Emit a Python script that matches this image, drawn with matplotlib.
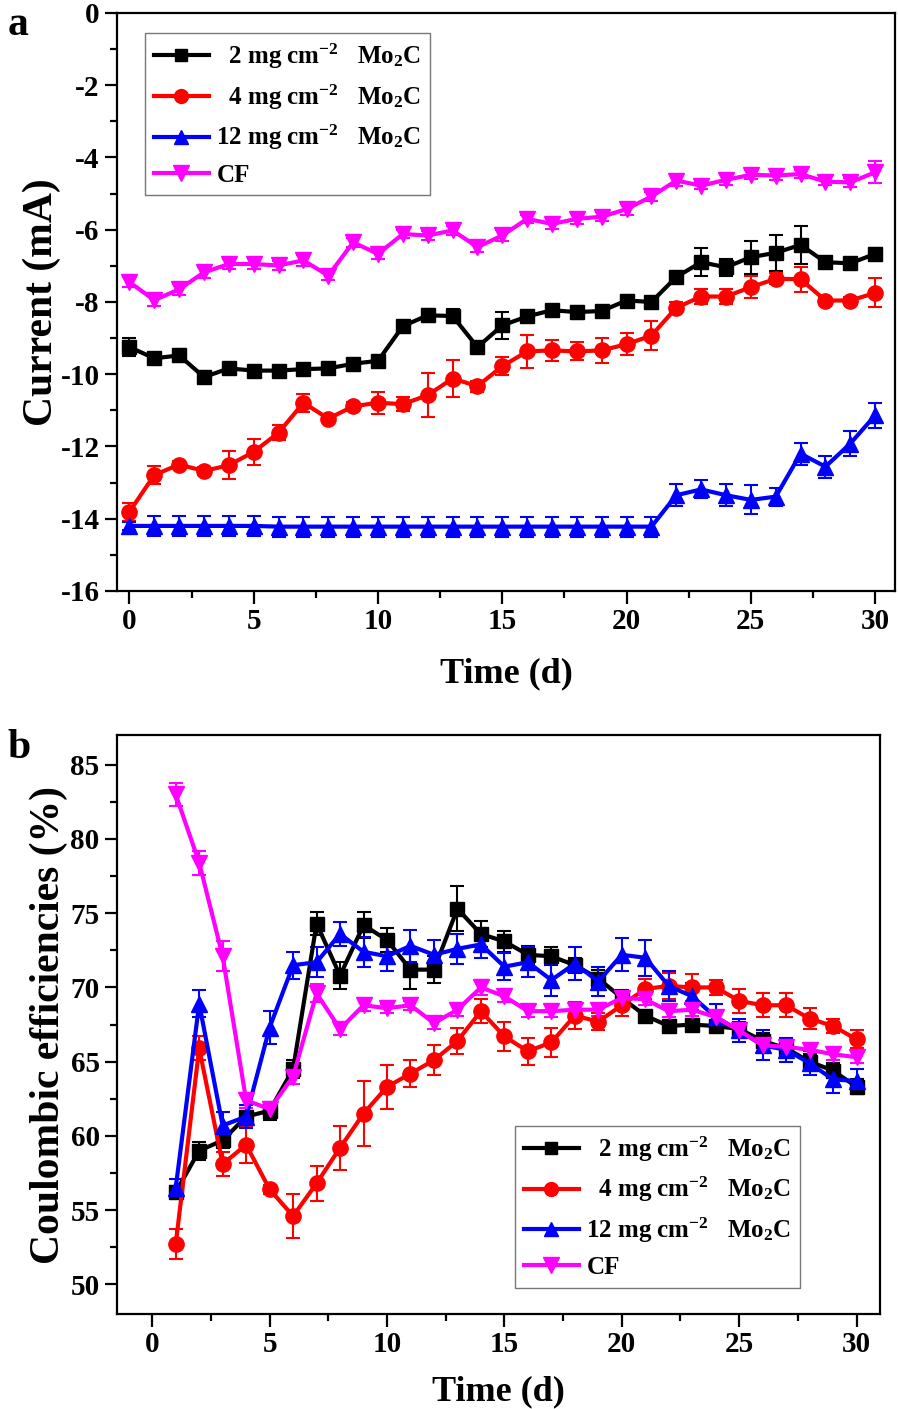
import matplotlib
matplotlib.use("Agg")
import matplotlib.pyplot as plt
import numpy as np
from matplotlib.ticker import MultipleLocator
from matplotlib.lines import Line2D

plt.rcParams['font.family'] = ['Liberation Serif', 'DejaVu Serif']
plt.rcParams['font.weight'] = 'bold'
plt.rcParams['axes.unicode_minus'] = False
plt.rcParams['mathtext.fontset'] = 'custom'
plt.rcParams['mathtext.rm'] = 'Liberation Serif:bold'
plt.rcParams['mathtext.it'] = 'Liberation Serif:bold'
plt.rcParams['mathtext.bf'] = 'Liberation Serif:bold'

# ---- panel a: current vs time ----
days_a = list(range(0, 31))
cur_2mg = [-9.25, -9.56, -9.48, -10.08, -9.84, -9.9, -9.9, -9.86, -9.84, -9.71, -9.63,
           -8.67, -8.37, -8.39, -9.25, -8.65, -8.4, -8.23, -8.28, -8.25, -7.96,
           -8.0, -7.31, -6.9, -7.04, -6.76, -6.64, -6.42, -6.9, -6.93, -6.67]
cur_2mg_err = [0.25, 0.15, 0.18, 0.12, 0.1, 0.1, 0.1, 0.1, 0.12, 0.1, 0.1,
               0.15, 0.18, 0.2, 0.1, 0.37, 0.1, 0.15, 0.18, 0.15, 0.15,
               0.12, 0.12, 0.39, 0.23, 0.46, 0.5, 0.52, 0.1, 0.1, 0.15]
cur_4mg = [-13.81, -12.79, -12.5, -12.68, -12.52, -12.15, -11.62, -10.79, -11.23, -10.89, -10.79,
           -10.83, -10.58, -10.12, -10.33, -9.78, -9.37, -9.34, -9.37, -9.34, -9.17,
           -8.93, -8.16, -7.85, -7.85, -7.59, -7.36, -7.37, -7.96, -7.96, -7.75]
cur_4mg_err = [0.25, 0.25, 0.1, 0.12, 0.38, 0.35, 0.2, 0.25, 0.1, 0.12, 0.3,
               0.2, 0.6, 0.5, 0.15, 0.25, 0.46, 0.3, 0.25, 0.35, 0.3,
               0.4, 0.15, 0.2, 0.2, 0.3, 0.15, 0.35, 0.1, 0.1, 0.4]
cur_12mg = [-14.2, -14.2, -14.2, -14.2, -14.2, -14.2, -14.22, -14.22, -14.22, -14.22, -14.22,
            -14.22, -14.22, -14.22, -14.22, -14.22, -14.22, -14.22, -14.22, -14.22, -14.22,
            -14.22, -13.35, -13.19, -13.35, -13.48, -13.39, -12.2, -12.56, -11.92, -11.14]
cur_12mg_err = [0.1, 0.28, 0.28, 0.28, 0.28, 0.28, 0.28, 0.28, 0.28, 0.28, 0.28,
                0.28, 0.28, 0.28, 0.28, 0.28, 0.28, 0.28, 0.28, 0.28, 0.28,
                0.28, 0.3, 0.25, 0.3, 0.4, 0.25, 0.3, 0.3, 0.35, 0.35]
cur_cf = [-7.45, -7.95, -7.65, -7.18, -6.95, -6.95, -6.99, -6.85, -7.27, -6.35, -6.67,
          -6.12, -6.16, -6.02, -6.48, -6.16, -5.7, -5.84, -5.7, -5.64, -5.43,
          -5.08, -4.64, -4.78, -4.62, -4.48, -4.5, -4.46, -4.67, -4.69, -4.41]
cur_cf_err = [0.15, 0.15, 0.15, 0.15, 0.15, 0.15, 0.12, 0.15, 0.12, 0.12, 0.15,
              0.12, 0.12, 0.12, 0.15, 0.15, 0.12, 0.15, 0.15, 0.12, 0.15,
              0.12, 0.15, 0.1, 0.15, 0.12, 0.12, 0.12, 0.1, 0.12, 0.3]

# ---- panel b: coulombic efficiency vs time ----
days_b = list(range(1, 31))
ce_2mg = [56.2, 59.0, 59.7, 61.3, 61.7, 64.5, 74.3, 70.8, 74.2, 73.2,
          71.2, 71.2, 75.3, 73.6, 73.1, 72.2, 72.1, 71.5, 70.6, 69.3,
          68.1, 67.4, 67.5, 67.4, 67.2, 66.4, 65.9, 65.0, 64.4, 63.3]
ce_2mg_err = [0.4, 0.6, 0.5, 0.6, 0.6, 0.6, 0.8, 0.9, 0.9, 0.8,
              1.3, 0.9, 1.5, 0.9, 0.7, 0.6, 0.6, 0.5, 0.6, 0.5,
              0.3, 0.3, 0.4, 0.4, 0.5, 0.5, 0.4, 0.5, 0.5, 0.5]
ce_4mg = [52.7, 65.9, 58.1, 59.4, 56.4, 54.6, 56.8, 59.2, 61.5, 63.3,
          64.2, 65.1, 66.4, 68.4, 66.7, 65.7, 66.3, 68.1, 67.7, 68.8,
          69.9, 70.1, 70.0, 70.0, 69.1, 68.8, 68.8, 67.9, 67.4, 66.5]
ce_4mg_err = [1.0, 0.8, 0.8, 1.2, 0.3, 1.5, 1.2, 1.5, 2.2, 1.5,
              0.9, 1.0, 0.9, 0.8, 1.0, 0.9, 1.0, 0.9, 0.6, 0.7,
              0.7, 0.9, 0.9, 0.5, 0.8, 0.8, 0.8, 0.7, 0.5, 0.6]
ce_12mg = [56.5, 68.9, 60.7, 61.3, 67.3, 71.5, 71.7, 73.6, 72.4, 72.1,
           72.8, 72.2, 72.6, 72.9, 71.4, 71.7, 70.5, 71.6, 70.4, 72.2,
           72.0, 70.1, 69.4, 68.0, 67.1, 66.1, 65.8, 64.9, 63.8, 63.7]
ce_12mg_err = [0.6, 0.9, 0.9, 0.8, 1.1, 0.9, 1.0, 0.8, 1.0, 1.0,
               1.1, 1.0, 1.0, 0.9, 0.9, 1.0, 1.1, 1.1, 1.0, 1.1,
               1.2, 1.0, 0.9, 0.9, 0.8, 1.0, 0.8, 0.8, 0.9, 0.8]
ce_cf = [83.0, 78.4, 72.1, 62.4, 61.8, 64.0, 69.6, 67.2, 68.8, 68.6,
         68.8, 67.6, 68.5, 70.0, 69.4, 68.4, 68.4, 68.5, 68.5, 69.3,
         69.2, 68.4, 68.5, 68.0, 67.1, 66.1, 66.0, 65.8, 65.5, 65.3]
ce_cf_err = [0.8, 0.8, 1.0, 0.5, 0.4, 0.5, 0.6, 0.4, 0.4, 0.3,
             0.3, 0.4, 0.4, 0.5, 0.4, 0.4, 0.4, 0.4, 0.4, 0.4,
             0.4, 0.4, 0.4, 0.4, 0.4, 0.4, 0.4, 0.4, 0.4, 0.4]

labels = ['  2 mg cm$^{-2}$   Mo$_2$C', '  4 mg cm$^{-2}$   Mo$_2$C',
          '12 mg cm$^{-2}$   Mo$_2$C', 'CF']
colors = ['#000000', '#ff0000', '#0000ff', '#ff00ff']
markers = ['s', 'o', '^', 'v']
msizes = [10, 11, 11, 12]

fig = plt.figure(figsize=(8.98, 14.09), dpi=100)
ax1 = fig.add_axes([0.1303, 0.5806, 0.8664, 0.4102])
ax2 = fig.add_axes([0.1303, 0.0674, 0.8497, 0.4109])


def style_axis(ax):
    for s in ax.spines.values():
        s.set_linewidth(1.6)
    ax.tick_params(axis='both', which='major', direction='out', length=9, width=1.6,
                   labelsize=21, top=False, right=False)
    ax.tick_params(axis='both', which='minor', direction='out', length=5, width=1.6,
                   top=False, right=False)
    for lab in ax.get_xticklabels() + ax.get_yticklabels():
        lab.set_fontweight('bold')


def add_legend(ax, anchor, loc):
    handles = [Line2D([], [], color=colors[i], marker=markers[i], ms=msizes[i] - 1, lw=3)
               for i in range(4)]
    leg = ax.legend(handles, labels, loc=loc, bbox_to_anchor=anchor, fontsize=18,
                    frameon=True, fancybox=False, edgecolor='#555555', handlelength=2.2,
                    handletextpad=0.3, labelspacing=0.45, borderpad=0.35,
                    borderaxespad=0.0)
    leg.get_frame().set_linewidth(1.0)


series_a = [(cur_2mg, cur_2mg_err), (cur_4mg, cur_4mg_err),
            (cur_12mg, cur_12mg_err), (cur_cf, cur_cf_err)]
for i, (y, e) in enumerate(series_a):
    ax1.errorbar(days_a, y, yerr=e, color=colors[i], marker=markers[i], ms=msizes[i],
                 lw=3, elinewidth=1.5, capsize=5, capthick=1.5)

ax1.set_xlim(-0.5, 30.8)
ax1.set_ylim(-16, 0)
ax1.xaxis.set_major_locator(MultipleLocator(5))
ax1.xaxis.set_minor_locator(MultipleLocator(2.5))
ax1.yaxis.set_major_locator(MultipleLocator(2))
ax1.yaxis.set_minor_locator(MultipleLocator(1))
ax1.set_xlabel('Time (d)', fontsize=26, fontweight='bold', labelpad=16)
ax1.set_ylabel('Current (mA)', fontsize=30, fontweight='bold', labelpad=0)
style_axis(ax1)
add_legend(ax1, (0.036, 0.965), 'upper left')

series_b = [(ce_2mg, ce_2mg_err), (ce_4mg, ce_4mg_err),
            (ce_12mg, ce_12mg_err), (ce_cf, ce_cf_err)]
for i, (y, e) in enumerate(series_b):
    ax2.errorbar(days_b, y, yerr=e, color=colors[i], marker=markers[i], ms=msizes[i],
                 lw=3, elinewidth=1.5, capsize=5, capthick=1.5)

ax2.set_xlim(-1.5, 31)
ax2.set_ylim(48, 87)
ax2.xaxis.set_major_locator(MultipleLocator(5))
ax2.xaxis.set_minor_locator(MultipleLocator(2.5))
ax2.yaxis.set_major_locator(MultipleLocator(5))
ax2.yaxis.set_minor_locator(MultipleLocator(2.5))
ax2.set_xlabel('Time (d)', fontsize=26, fontweight='bold', labelpad=12)
ax2.set_ylabel('Coulombic efficiencies (%)', fontsize=30, fontweight='bold', labelpad=2)
style_axis(ax2)
add_legend(ax2, (0.895, 0.045), 'lower right')

fig.text(0.008, 0.975, 'a', fontsize=30, fontweight='bold')
fig.text(0.008, 0.462, 'b', fontsize=30, fontweight='bold')

fig.savefig('out.png', dpi=100)
